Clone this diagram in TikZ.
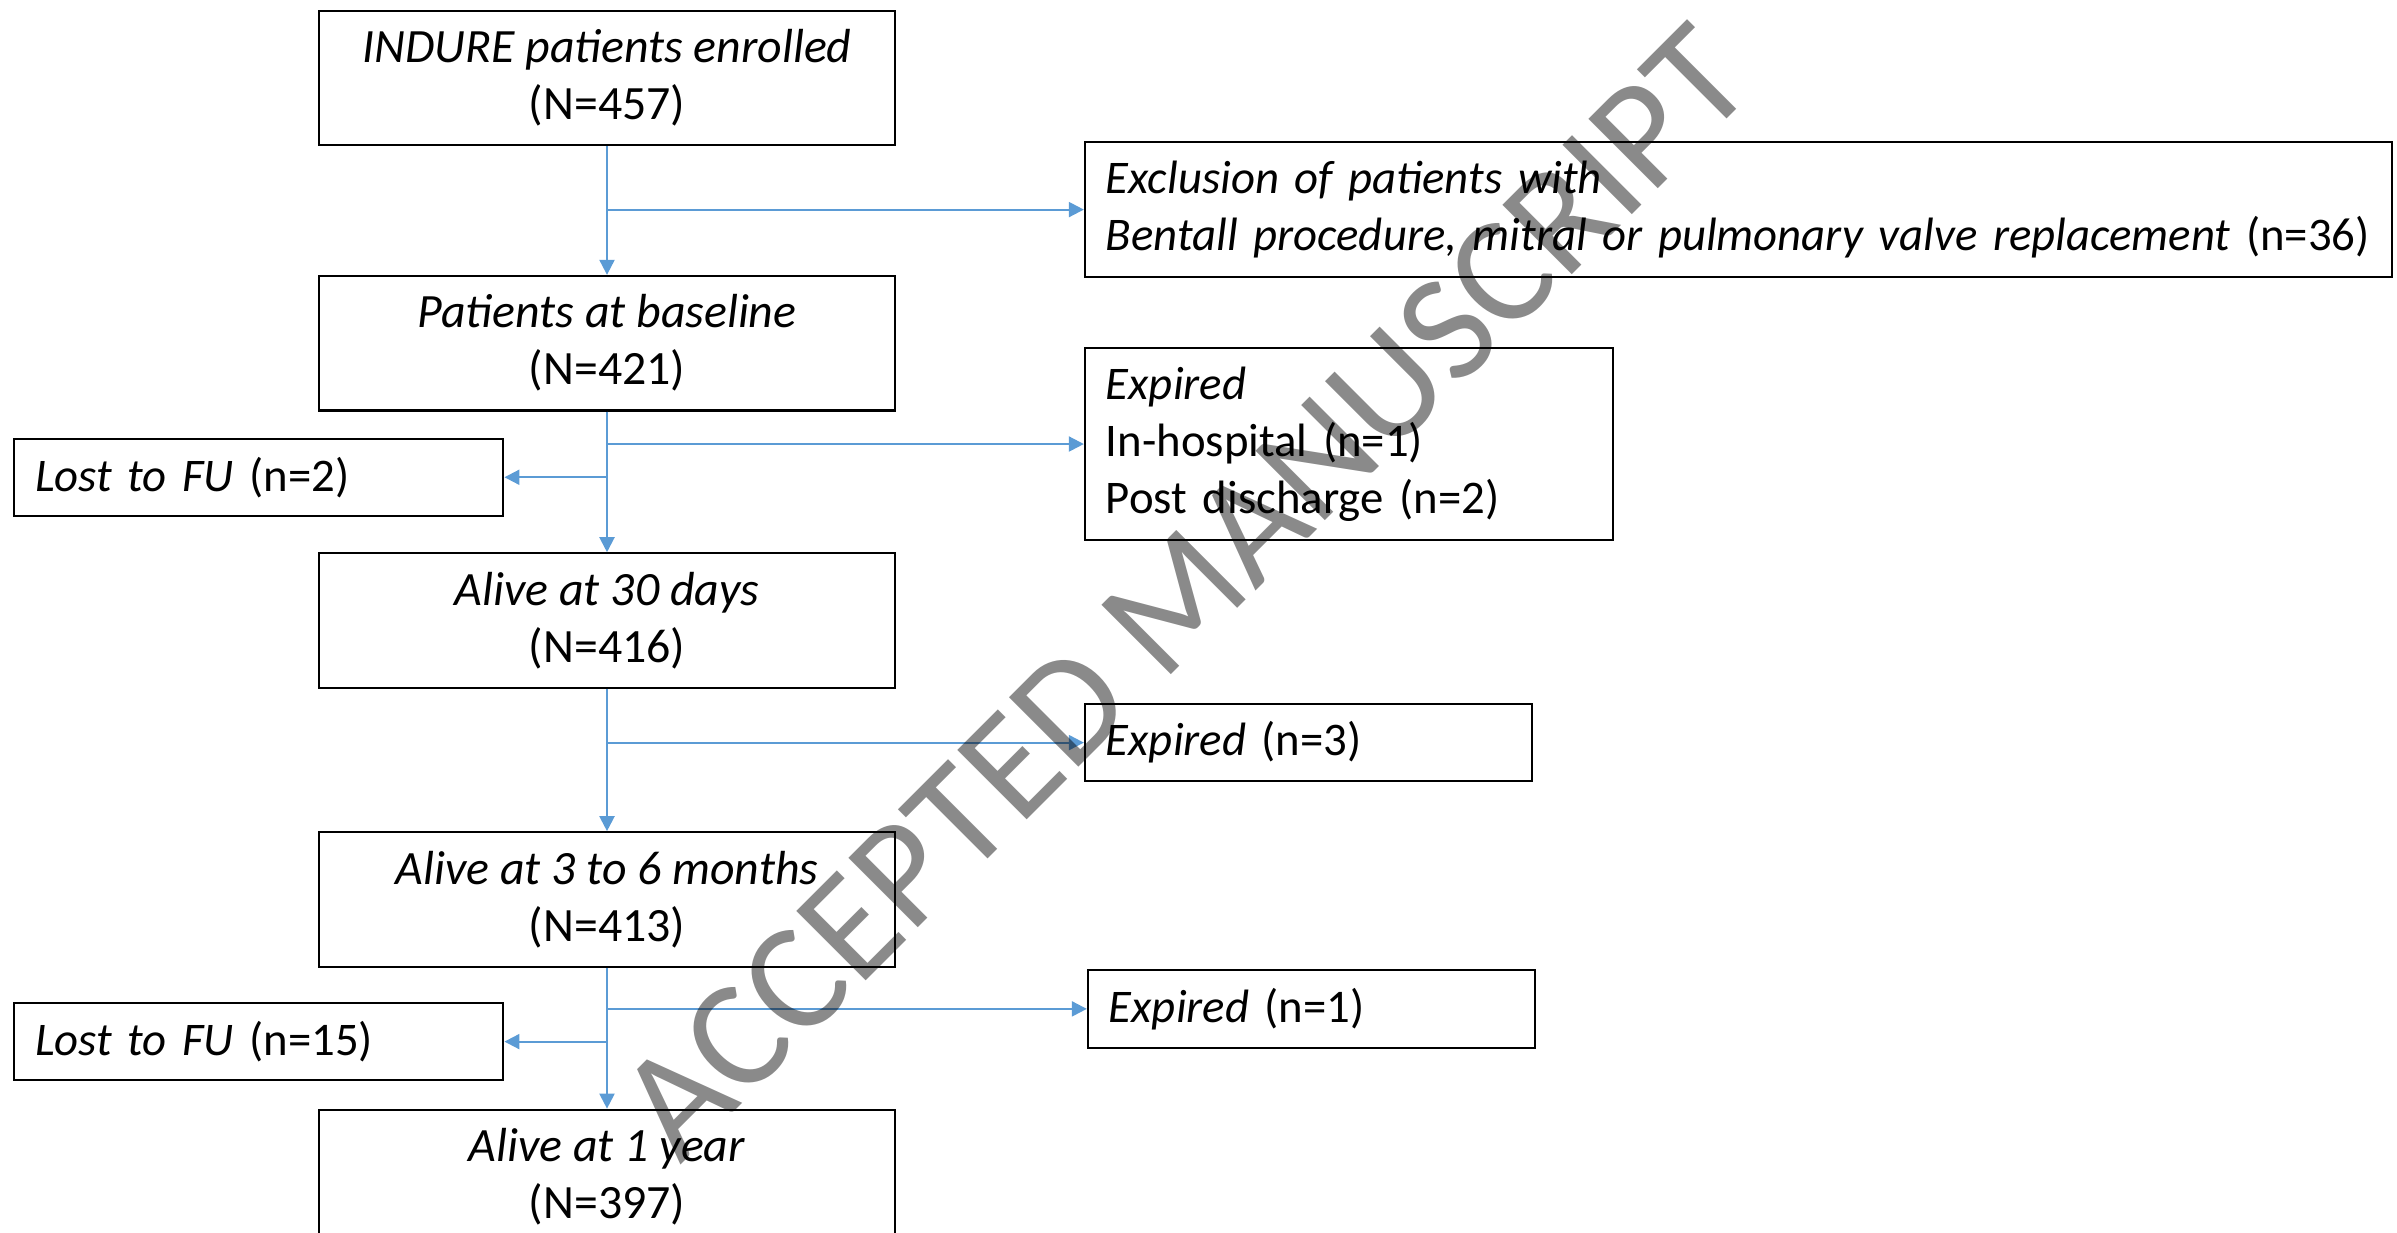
\documentclass[tikz,border=0pt]{standalone}
\usepackage{fontspec}
\setmainfont{Carlito}
\usepackage{xcolor}
\usepackage{tikz}
\usetikzlibrary{arrows.meta,positioning}
\definecolor{flowblue}{HTML}{5B9BD5}

\begin{document}
\begin{tikzpicture}[x=0.01cm, y=-0.01cm,
  box/.style={draw, line width=0.6pt, align=center, font=\fontsize{13.6}{16.2}\selectfont,
              minimum width=5.75cm, minimum height=1.345cm, inner sep=0pt},
  side/.style={draw, line width=0.6pt, align=left, font=\fontsize{13.3}{16.2}\selectfont,
               inner xsep=2.1mm, inner ysep=0pt},
  arr/.style={-{Triangle[length=1.5mm, width=1.5mm]}, line width=0.6pt, draw=flowblue, fill=flowblue},
  stampmark/.style={rotate=45, font=\fontsize{43.5}{43.5}\selectfont, text=black, text opacity=0.46, inner sep=0pt}]

  \useasboundingbox (0,0) rectangle (2397,1232);

  % main column
  \node[box] (enrol) at (607,78) {\textit{INDURE patients enrolled}\\(N=457)};
  \node[box, below=1.284cm of enrol] (base)  {\textit{Patients at baseline}\\(N=421)};
  \node[box, below=1.406cm of base]  (day30) {\textit{Alive at 30 days}\\(N=416)};
  \node[box, below=1.422cm of day30] (month) {\textit{Alive at 3 to 6 months}\\(N=413)};
  \node[box, below=1.407cm of month] (year)  {\textit{Alive at 1 year}\\(N=397)};

  % drop-outs on the right and on the left
  \node[side, text width=12.64cm, minimum height=1.35cm, right=1.88cm of enrol, yshift=-1.315cm] (excl)
    {\textit{Exclusion of patients with}\\\textit{Bentall procedure, mitral or pulmonary valve replacement} (n=36)};
  \node[side, text width=4.86cm, minimum height=1.925cm, right=1.88cm of base, yshift=-1.008cm] (diedA)
    {\textit{Expired}\\In-hospital (n=1)\\Post discharge (n=2)};
  \node[side, text width=4.47cm, minimum height=0.77cm, left=1.025cm of base.center, yshift=-1.34cm] (lostA)
    {\textit{Lost to FU} (n=2)};
  \node[side, text width=4.05cm, minimum height=0.77cm, right=1.88cm of day30, yshift=-1.22cm] (diedB)
    {\textit{Expired} (n=3)};
  \node[side, text width=4.05cm, minimum height=0.78cm, right=1.91cm of month, yshift=-1.093cm] (diedC)
    {\textit{Expired} (n=1)};
  \node[side, text width=4.47cm, minimum height=0.77cm, left=1.025cm of month.center, yshift=-1.42cm] (lostB)
    {\textit{Lost to FU} (n=15)};

  \draw[arr] (enrol) -- (base);
  \draw[arr] (base)  -- (day30);
  \draw[arr] (day30) -- (month);
  \draw[arr] (month) -- (year);

  \draw[arr] (enrol.south |- excl.west)  -- (excl.west);
  \draw[arr] (base.south  |- diedA.west) -- (diedA.west);
  \draw[arr] (base.south  |- lostA.east) -- (lostA.east);
  \draw[arr] (day30.south |- diedB.west) -- (diedB.west);
  \draw[arr] (month.south |- diedC.west) -- (diedC.west);
  \draw[arr] (month.south |- lostB.east) -- (lostB.east);

  % watermark over everything
  \node[stampmark] (stamp) at (1185,592) {ACCEPTED MANUSCRIPT};
\end{tikzpicture}
\end{document}
